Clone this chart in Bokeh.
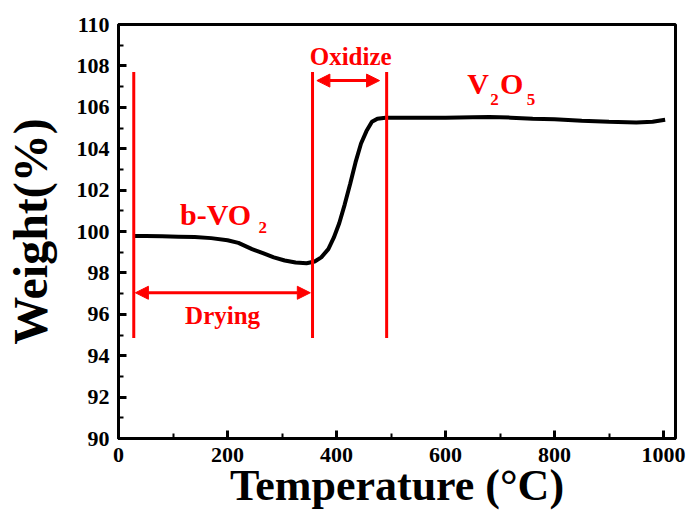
import numpy as np
from bokeh.plotting import figure
from bokeh.models import (Range1d, SingleIntervalTicker, Arrow, NormalHead)
from bokeh.core.properties import value
from bokeh.embed import file_html
from bokeh.resources import INLINE

# ---- data ----
temperature = [28, 50, 80, 110, 140, 170, 200, 220, 245, 265, 285, 305, 325, 345,
               360, 372, 385, 395, 405, 415, 425, 435, 445, 455, 465, 475, 490,
               520, 560, 600, 650, 680, 720, 760, 800, 850, 900, 950, 980, 1003]
weight = [99.78, 99.78, 99.77, 99.75, 99.73, 99.68, 99.58, 99.45, 99.15, 98.95,
          98.75, 98.6, 98.5, 98.47, 98.55, 98.75, 99.15, 99.7, 100.4, 101.3,
          102.3, 103.35, 104.25, 104.85, 105.3, 105.45, 105.5, 105.5, 105.5,
          105.5, 105.52, 105.53, 105.5, 105.45, 105.42, 105.35, 105.3, 105.27,
          105.3, 105.4]

# stage boundaries (°C) and marker extent (%)
boundaries = [28, 356, 492]
marker_bottom = 94.85
marker_top = 107.7

x_label = "Temperature (°C)"
y_label = "Weight(%)"

FONT = value("Liberation Serif")
RED = "#ff0000"

p = figure(width=691, height=515, output_backend="svg", toolbar_location=None,
           x_range=Range1d(0, 1022), y_range=Range1d(90, 110),
           min_border_left=116, min_border_right=16, min_border_top=24,
           min_border_bottom=77)

p.xgrid.visible = False
p.ygrid.visible = False
p.outline_line_color = "black"
p.outline_line_width = 3
p.background_fill_color = "white"
p.border_fill_color = "white"

p.xaxis.ticker = SingleIntervalTicker(interval=200, num_minor_ticks=2)
p.yaxis.ticker = SingleIntervalTicker(interval=2, num_minor_ticks=2)

for ax in (p.xaxis[0], p.yaxis[0]):
    ax.axis_line_width = 3
    ax.axis_line_color = "black"
    ax.major_tick_in = 8
    ax.major_tick_out = 0
    ax.minor_tick_in = 5
    ax.minor_tick_out = 0
    ax.major_tick_line_width = 3
    ax.minor_tick_line_width = 2
    ax.major_label_text_font = "Liberation Serif"
    ax.major_label_text_font_style = "bold"
    ax.major_label_text_font_size = "22px"
    ax.major_label_text_color = "black"
    ax.major_label_standoff = 9
    ax.axis_label_text_font = "Liberation Serif"
    ax.axis_label_text_font_style = "bold"
    ax.axis_label_text_color = "black"

p.xaxis.axis_label = x_label
p.xaxis.axis_label_text_font_size = "44px"
p.xaxis.axis_label_standoff = -4

p.yaxis.axis_label = y_label
p.yaxis.axis_label_text_font_size = "48px"
p.yaxis.axis_label_standoff = 17

# curve
p.line(temperature, weight, line_color="black", line_width=4)

# stage boundary markers
p.segment(x0=boundaries, y0=[marker_bottom] * 3, x1=boundaries, y1=[marker_top] * 3,
          line_color=RED, line_width=3)

# arrows
def head():
    return NormalHead(size=13, fill_color=RED, line_color=RED, line_width=1)

p.add_layout(Arrow(x_start=31, y_start=97.04, x_end=352, y_end=97.04,
                   line_color=RED, line_width=3, start=head(), end=head()))
p.add_layout(Arrow(x_start=364, y_start=107.29, x_end=479, y_end=107.29,
                   line_color=RED, line_width=3, start=head(), end=head()))

# texts
def txt(x, y, s, size, align="left"):
    p.text(x=[x], y=[y], text=[s], text_font=FONT, text_font_style="bold",
           text_font_size=size, text_color=RED, text_align=align,
           text_baseline="alphabetic")

txt(426, 108.44, "Oxidize", "25px", "center")
txt(191, 95.95, "Drying", "25px", "center")
txt(113, 100.8, "b-VO", "30px")
txt(257, 100.21, "2", "17px")
txt(640, 107.15, "V", "30px")
txt(682, 106.37, "2", "17px")
txt(700, 107.15, "O", "30px")
txt(749, 106.37, "5", "17px")

open("out.html", "w").write(file_html(p, INLINE))
